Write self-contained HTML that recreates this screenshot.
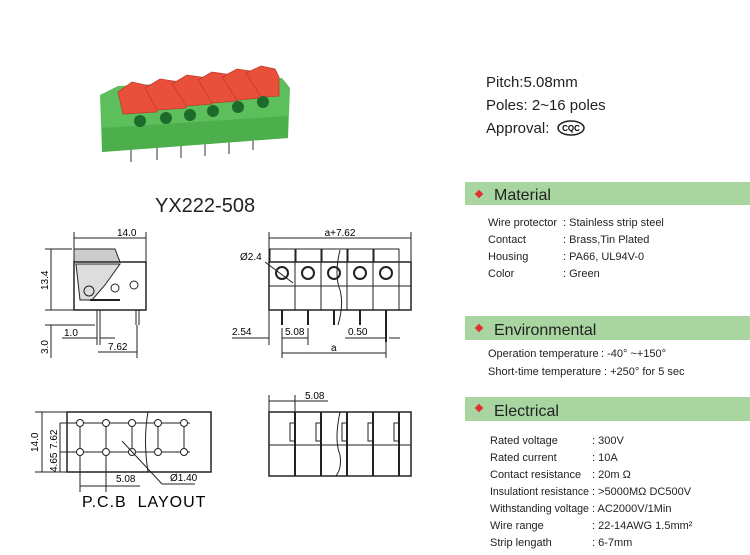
<!DOCTYPE html>
<html><head><style>
html,body{margin:0;padding:0;background:#fff;}
svg text{font-family:"Liberation Sans",sans-serif;}
</style></head><body>
<svg width="750" height="550" viewBox="0 0 750 550" xmlns="http://www.w3.org/2000/svg">
<!-- photo -->
<g>
<polygon points="100,95 118,86 282,78 290,88 288,138 102,152" fill="#5cbf5c"/>
<polygon points="102,128 288,116 288,138 102,152" fill="#4caf4c"/>
<g fill="#e8503c" stroke="#c43a2a" stroke-width="0.8">
<polygon points="118,92 132,82 150,86 157,96 157,112 123,114"/>
<polygon points="145,88 160,79 180,82 186,91 186,108 157,110"/>
<polygon points="172,84 187,75 207,78 212,87 212,104 186,106"/>
<polygon points="198,80 212,72 232,75 237,84 237,101 212,103"/>
<polygon points="222,77 237,69 256,72 261,80 261,98 237,100"/>
<polygon points="246,73 261,66 275,69 279,77 279,96 261,97"/>
</g>
<g fill="#1d6b2a">
<circle cx="140" cy="121" r="6"/><circle cx="166" cy="118" r="6"/><circle cx="190" cy="115" r="6"/><circle cx="213" cy="111" r="6"/><circle cx="238" cy="107" r="6"/><circle cx="263" cy="102" r="6"/>
</g>
<g stroke="#999" stroke-width="2">
<line x1="131" y1="150" x2="131" y2="162"/><line x1="157" y1="148" x2="157" y2="160"/><line x1="181" y1="146" x2="181" y2="158"/><line x1="205" y1="144" x2="205" y2="156"/><line x1="229" y1="142" x2="229" y2="154"/><line x1="253" y1="140" x2="253" y2="150"/>
</g>
</g>
<text x="486" y="87" font-size="15" fill="#222">Pitch:5.08mm</text>
<text x="486" y="110" font-size="15" fill="#222">Poles: 2~16 poles</text>
<text x="486" y="133" font-size="15" fill="#222">Approval:</text>
<ellipse cx="571" cy="128" rx="13" ry="7" fill="none" stroke="#222" stroke-width="1.5"/>
<text x="571" y="131" font-size="8" font-weight="bold" text-anchor="middle">CQC</text>
<text x="155" y="212" font-size="20" fill="#222">YX222-508</text>

<!-- side view -->
<g stroke="#222" stroke-width="1" fill="none">
<line x1="74" y1="232" x2="74" y2="250"/><line x1="146" y1="232" x2="146" y2="262"/>
<line x1="74" y1="238" x2="146" y2="238"/>
<path d="M74,249 L115,249 L120,262 L74,262 Z" fill="#ccc"/>
<rect x="74" y="262" width="72" height="48" stroke-width="1.5"/>
<path d="M76,264 L120,264 L105,285 L92,300 L80,300 Z" fill="#ddd"/>
<circle cx="89" cy="291" r="5"/><circle cx="115" cy="288" r="4"/><circle cx="134" cy="285" r="4"/>
<line x1="90" y1="300" x2="120" y2="300" stroke-width="2"/>
<line x1="45" y1="249" x2="72" y2="249"/><line x1="45" y1="310" x2="74" y2="310"/>
<line x1="51" y1="249" x2="51" y2="310"/>
<line x1="45" y1="325" x2="95" y2="325"/><line x1="51" y1="325" x2="51" y2="358"/>
<line x1="97" y1="310" x2="97" y2="345"/><line x1="100" y1="310" x2="100" y2="345"/>
<line x1="136" y1="310" x2="136" y2="325"/><line x1="139" y1="310" x2="139" y2="325"/>
<line x1="62" y1="338" x2="97" y2="338"/><line x1="100" y1="338" x2="115" y2="338"/>
<line x1="98" y1="352" x2="137" y2="352"/><line x1="137" y1="325" x2="137" y2="358"/>
</g>
<text x="117" y="236" font-size="10">14.0</text>
<text x="48" y="290" font-size="10" transform="rotate(-90 48 290)">13.4</text>
<text x="48" y="354" font-size="10" transform="rotate(-90 48 354)">3.0</text>
<text x="64" y="336" font-size="10">1.0</text>
<text x="108" y="350" font-size="10">7.62</text>

<!-- front view -->
<g stroke="#222" stroke-width="1" fill="none">
<line x1="269" y1="232" x2="269" y2="262"/><line x1="411" y1="232" x2="411" y2="262"/>
<line x1="269" y1="238" x2="411" y2="238"/>
<rect x="270" y="249" width="25" height="13"/><rect x="296" y="249" width="25" height="13"/><rect x="322" y="249" width="25" height="13"/><rect x="348" y="249" width="25" height="13"/><rect x="374" y="249" width="25" height="13"/>
<rect x="269" y="262" width="142" height="48" stroke-width="1.5"/>
<line x1="269" y1="286" x2="411" y2="286"/>
<line x1="295" y1="262" x2="295" y2="310"/><line x1="321" y1="262" x2="321" y2="310"/><line x1="347" y1="262" x2="347" y2="310"/><line x1="373" y1="262" x2="373" y2="310"/><line x1="399" y1="262" x2="399" y2="310"/>
<g stroke-width="2"><circle cx="282" cy="273" r="6"/><circle cx="308" cy="273" r="6"/><circle cx="334" cy="273" r="6"/><circle cx="360" cy="273" r="6"/><circle cx="386" cy="273" r="6"/></g>
<line x1="265" y1="262" x2="293" y2="283"/>
<path d="M340,250 Q334,275 340,290 Q344,305 338,325"/>
<line x1="282" y1="310" x2="282" y2="325" stroke-width="2"/><line x1="308" y1="310" x2="308" y2="325" stroke-width="2"/><line x1="334" y1="310" x2="334" y2="325" stroke-width="2"/><line x1="360" y1="310" x2="360" y2="325" stroke-width="2"/><line x1="386" y1="310" x2="386" y2="342" stroke-width="2"/>
<line x1="269" y1="310" x2="269" y2="345"/><line x1="232" y1="338" x2="269" y2="338"/>
<line x1="282" y1="328" x2="282" y2="358"/><line x1="308" y1="328" x2="308" y2="345"/>
<line x1="282" y1="338" x2="308" y2="338"/>
<line x1="345" y1="338" x2="385" y2="338"/><line x1="389" y1="338" x2="400" y2="338"/>
<line x1="282" y1="353" x2="386" y2="353"/><line x1="386" y1="342" x2="386" y2="358"/>
</g>
<text x="340" y="236" font-size="10" text-anchor="middle">a+7.62</text>
<text x="240" y="260" font-size="10">Ø2.4</text>
<text x="232" y="335" font-size="10">2.54</text>
<text x="285" y="335" font-size="10">5.08</text>
<text x="348" y="335" font-size="10">0.50</text>
<text x="331" y="351" font-size="10">a</text>

<!-- pcb -->
<g stroke="#222" stroke-width="1" fill="none">
<rect x="67" y="412" width="144" height="60" stroke-width="1.5"/>
<line x1="60" y1="423" x2="190" y2="423"/><line x1="60" y1="452" x2="190" y2="452"/>
<line x1="80" y1="423" x2="80" y2="492"/><line x1="106" y1="423" x2="106" y2="492"/><line x1="132" y1="423" x2="132" y2="452"/><line x1="158" y1="423" x2="158" y2="452"/><line x1="184" y1="423" x2="184" y2="452"/>
<g fill="#fff"><circle cx="80" cy="423" r="3.5"/><circle cx="106" cy="423" r="3.5"/><circle cx="132" cy="423" r="3.5"/><circle cx="158" cy="423" r="3.5"/><circle cx="184" cy="423" r="3.5"/><circle cx="80" cy="452" r="3.5"/><circle cx="106" cy="452" r="3.5"/><circle cx="132" cy="452" r="3.5"/><circle cx="158" cy="452" r="3.5"/><circle cx="184" cy="452" r="3.5"/></g>
<path d="M148,412 Q143,440 148,472"/>
<line x1="122" y1="441" x2="162" y2="484"/><line x1="162" y1="484" x2="195" y2="484"/>
<line x1="35" y1="412" x2="67" y2="412"/><line x1="35" y1="472" x2="67" y2="472"/>
<line x1="42" y1="412" x2="42" y2="472"/><line x1="60" y1="423" x2="60" y2="472"/>
<line x1="80" y1="486" x2="140" y2="486"/>
</g>
<text x="38" y="452" font-size="10" transform="rotate(-90 38 452)">14.0</text>
<text x="57" y="449" font-size="10" transform="rotate(-90 57 449)">7.62</text>
<text x="57" y="472" font-size="10" transform="rotate(-90 57 472)">4.65</text>
<text x="116" y="482" font-size="10">5.08</text>
<text x="170" y="481" font-size="10">Ø1.40</text>
<text x="82" y="507" font-size="16" letter-spacing="1">P.C.B&#160;&#160;LAYOUT</text>

<!-- bottom front -->
<g stroke="#222" stroke-width="1" fill="none">
<line x1="269" y1="395" x2="269" y2="412"/><line x1="295" y1="395" x2="295" y2="412"/>
<line x1="269" y1="401" x2="328" y2="401"/>
<rect x="269" y="412" width="142" height="64" stroke-width="1.5"/>
<line x1="269" y1="445" x2="411" y2="445"/>
<line x1="295" y1="412" x2="295" y2="476" stroke-width="2"/><line x1="321" y1="412" x2="321" y2="476" stroke-width="2"/><line x1="347" y1="412" x2="347" y2="476" stroke-width="2"/><line x1="373" y1="412" x2="373" y2="476" stroke-width="2"/><line x1="399" y1="412" x2="399" y2="476" stroke-width="2"/>
<path d="M340,412 Q334,440 340,455 Q342,468 336,476"/>
<rect x="290" y="423" width="5" height="18"/><rect x="316" y="423" width="5" height="18"/><rect x="342" y="423" width="5" height="18"/><rect x="368" y="423" width="5" height="18"/><rect x="394" y="423" width="5" height="18"/>
</g>
<text x="305" y="399" font-size="10">5.08</text>

<!-- spec bars -->
<rect x="465" y="182" width="285" height="23" fill="#a8d5a0"/>
<rect x="465" y="316" width="285" height="24" fill="#a8d5a0"/>
<rect x="465" y="397" width="285" height="24" fill="#a8d5a0"/>
<g fill="#e03030"><rect x="476" y="191" width="6" height="6" transform="rotate(45 479 194)"/><rect x="476" y="325" width="6" height="6" transform="rotate(45 479 328)"/><rect x="476" y="405" width="6" height="6" transform="rotate(45 479 408)"/></g>
<g font-size="16" fill="#222"><text x="494" y="200">Material</text><text x="494" y="335">Environmental</text><text x="494" y="416">Electrical</text></g>
<g font-size="11" fill="#222">
<text x="488" y="226">Wire protector</text><text x="563" y="226">: Stainless strip steel</text>
<text x="488" y="243">Contact</text><text x="563" y="243">: Brass,Tin Plated</text>
<text x="488" y="260">Housing</text><text x="563" y="260">: PA66, UL94V-0</text>
<text x="488" y="277">Color</text><text x="563" y="277">: Green</text>
<text x="488" y="357">Operation temperature</text><text x="601" y="357">: -40°  ~+150°</text>
<text x="488" y="375">Short-time temperature</text><text x="604" y="375">: +250°  for 5 sec</text>
<text x="490" y="444">Rated voltage</text><text x="592" y="444">: 300V</text>
<text x="490" y="461">Rated current</text><text x="592" y="461">: 10A</text>
<text x="490" y="478">Contact resistance</text><text x="592" y="478">: 20m Ω</text>
<text x="490" y="495" textLength="99" lengthAdjust="spacingAndGlyphs">Insulationt resistance</text><text x="592" y="495">: &gt;5000MΩ  DC500V</text>
<text x="490" y="512" textLength="99" lengthAdjust="spacingAndGlyphs">Withstanding voltage</text><text x="592" y="512">: AC2000V/1Min</text>
<text x="490" y="529">Wire range</text><text x="592" y="529">: 22-14AWG 1.5mm²</text>
<text x="490" y="546">Strip lengath</text><text x="592" y="546">: 6-7mm</text>
</g>
</svg>
</body></html>
